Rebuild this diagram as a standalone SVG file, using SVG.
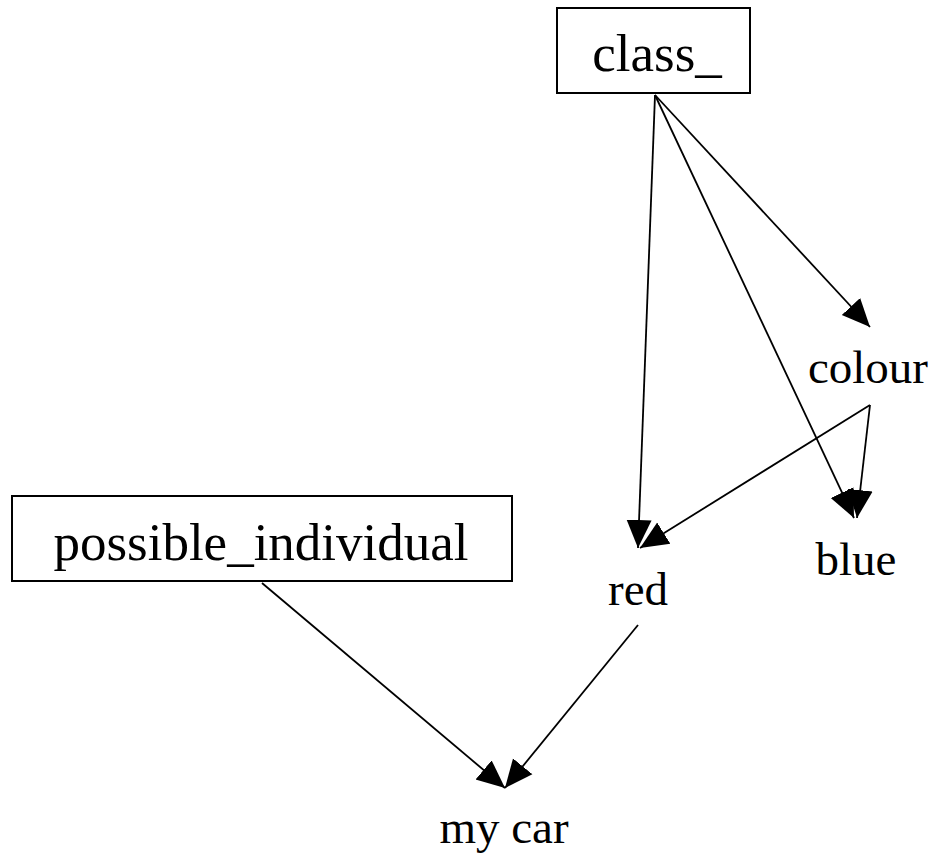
<svg xmlns="http://www.w3.org/2000/svg" width="934" height="855" viewBox="0 0 934 855">
  <style>
    .box { fill: #fff; stroke: #000; stroke-width: 2; }
    .lbl { font-family: "Liberation Serif", "Times New Roman", serif; font-size: 53px; fill: #000; text-anchor: middle; }
    .plain { font-size: 47px; }
    .edge { stroke: #000; stroke-width: 1.8; fill: none; marker-end: url(#arrow); }
  </style>
  <defs>
    <marker id="arrow" markerUnits="userSpaceOnUse" markerWidth="30" markerHeight="28" viewBox="0 -14 30 28" refX="28" refY="0" orient="auto">
      <path d="M0,-12.5 L28,0 L0,12.5 z" fill="#000"/>
    </marker>
  </defs>
  <rect width="934" height="855" fill="#fff"/>

  <g id="edges">
    <line class="edge" x1="655" y1="95" x2="638" y2="548"/>
    <line class="edge" x1="655" y1="95" x2="854" y2="518"/>
    <line class="edge" x1="655" y1="95" x2="870" y2="327"/>
    <line class="edge" x1="870" y1="405" x2="857" y2="518"/>
    <line class="edge" x1="870" y1="405" x2="640" y2="548"/>
    <line class="edge" x1="262" y1="583" x2="505" y2="788"/>
    <line class="edge" x1="638" y1="625" x2="505" y2="788"/>
  </g>

  <g id="class_">
    <rect class="box" x="557" y="8" width="193" height="85"/>
    <text class="lbl" x="657" y="71">class_</text>
  </g>
  <g id="possible_individual">
    <rect class="box" x="12" y="496" width="500" height="85"/>
    <text class="lbl" x="261" y="560">possible_individual</text>
  </g>
  <g id="colour">
    <text class="lbl plain" x="868" y="383">colour</text>
  </g>
  <g id="blue">
    <text class="lbl plain" x="856" y="575">blue</text>
  </g>
  <g id="red">
    <text class="lbl plain" x="638" y="605">red</text>
  </g>
  <g id="my_car">
    <text class="lbl plain" x="504" y="843">my car</text>
  </g>
</svg>
